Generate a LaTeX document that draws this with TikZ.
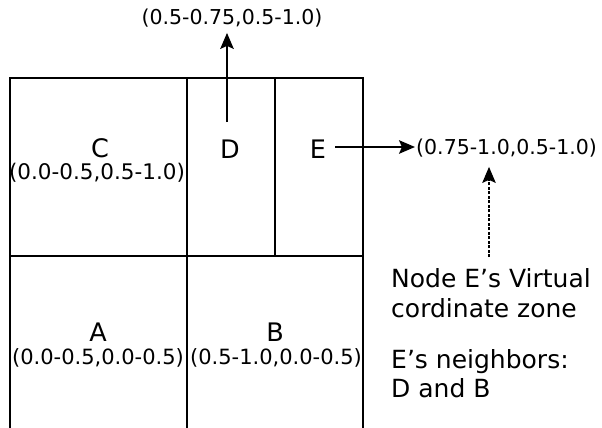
\documentclass[tikz,border=0pt]{standalone}
\usepackage{fontspec}
\setmainfont{DejaVu Sans}
\usetikzlibrary{arrows.meta}
\begin{document}
\begin{tikzpicture}[x=1pt,y=-1pt,
  grid/.style={line width=1.9pt},
  arr/.style={line width=1.7pt,-{Stealth[length=16pt,width=13.5pt,inset=3pt]}},
  varr/.style={line width=1.2pt,dash pattern=on 3pt off 1.5pt,-{Stealth[length=16pt,width=13.5pt,inset=3pt]}},
  zone/.style={font=\fontsize{25.5}{30}\selectfont,inner sep=0pt,anchor=base},
  coord/.style={font=\fontsize{21}{25}\selectfont,inner sep=0pt,anchor=base},
  note/.style={font=\fontsize{25}{30}\selectfont,inner sep=0pt,anchor=base west},
]
\useasboundingbox[fill=white] (0,0) rectangle (602,428);
% grid
\draw[grid] (10,428) -- (10,78) -- (363,78) -- (363,428);
\draw[grid] (187,78) -- (187,428);
\draw[grid] (275,78) -- (275,256);
\draw[grid] (10,256) -- (363,256);
% zones
\node[zone] (C) at (100,157) {C};
\node[coord,font=\fontsize{21.5}{25}\selectfont] (Cc) at (97,179) {(0.0-0.5,0.5-1.0)};
\node[zone] (D) at (230,158) {D};
\node[zone] (E) at (318,158) {E};
\node[zone] (A) at (98,341) {A};
\node[coord] (Ac) at (98,364) {(0.0-0.5,0.0-0.5)};
\node[zone] (B) at (275,341) {B};
\node[coord] (Bc) at (276,364) {(0.5-1.0,0.0-0.5)};
% labels
\node[coord,font=\fontsize{20.5}{25}\selectfont] (Dl) at (232,25) {(0.5-0.75,0.5-1.0)};
\node[coord,font=\fontsize{20.5}{25}\selectfont,anchor=base west] (El) at (416,154) {(0.75-1.0,0.5-1.0)};
% notes
\node[note] (n1) at (391,287) {Node E’s Virtual};
\node[note] (n2) at (391,317) {cordinate zone};
\node[note] (n3) at (391,368) {E’s neighbors:};
\node[note] (n4) at (391,397) {D and B};
% arrows
\coordinate (Ds) at (227,122);
\coordinate (Es) at (335,147);
\coordinate (Vs) at (489,257);
\draw[arr,shorten >=5pt] (Ds) -- (Ds |- Dl.south);
\draw[arr,shorten >=1pt] (Es) -- (Es -| El.west);
\draw[varr,shorten >=10pt] (Vs) -- (Vs |- El.south);
\end{tikzpicture}
\end{document}
